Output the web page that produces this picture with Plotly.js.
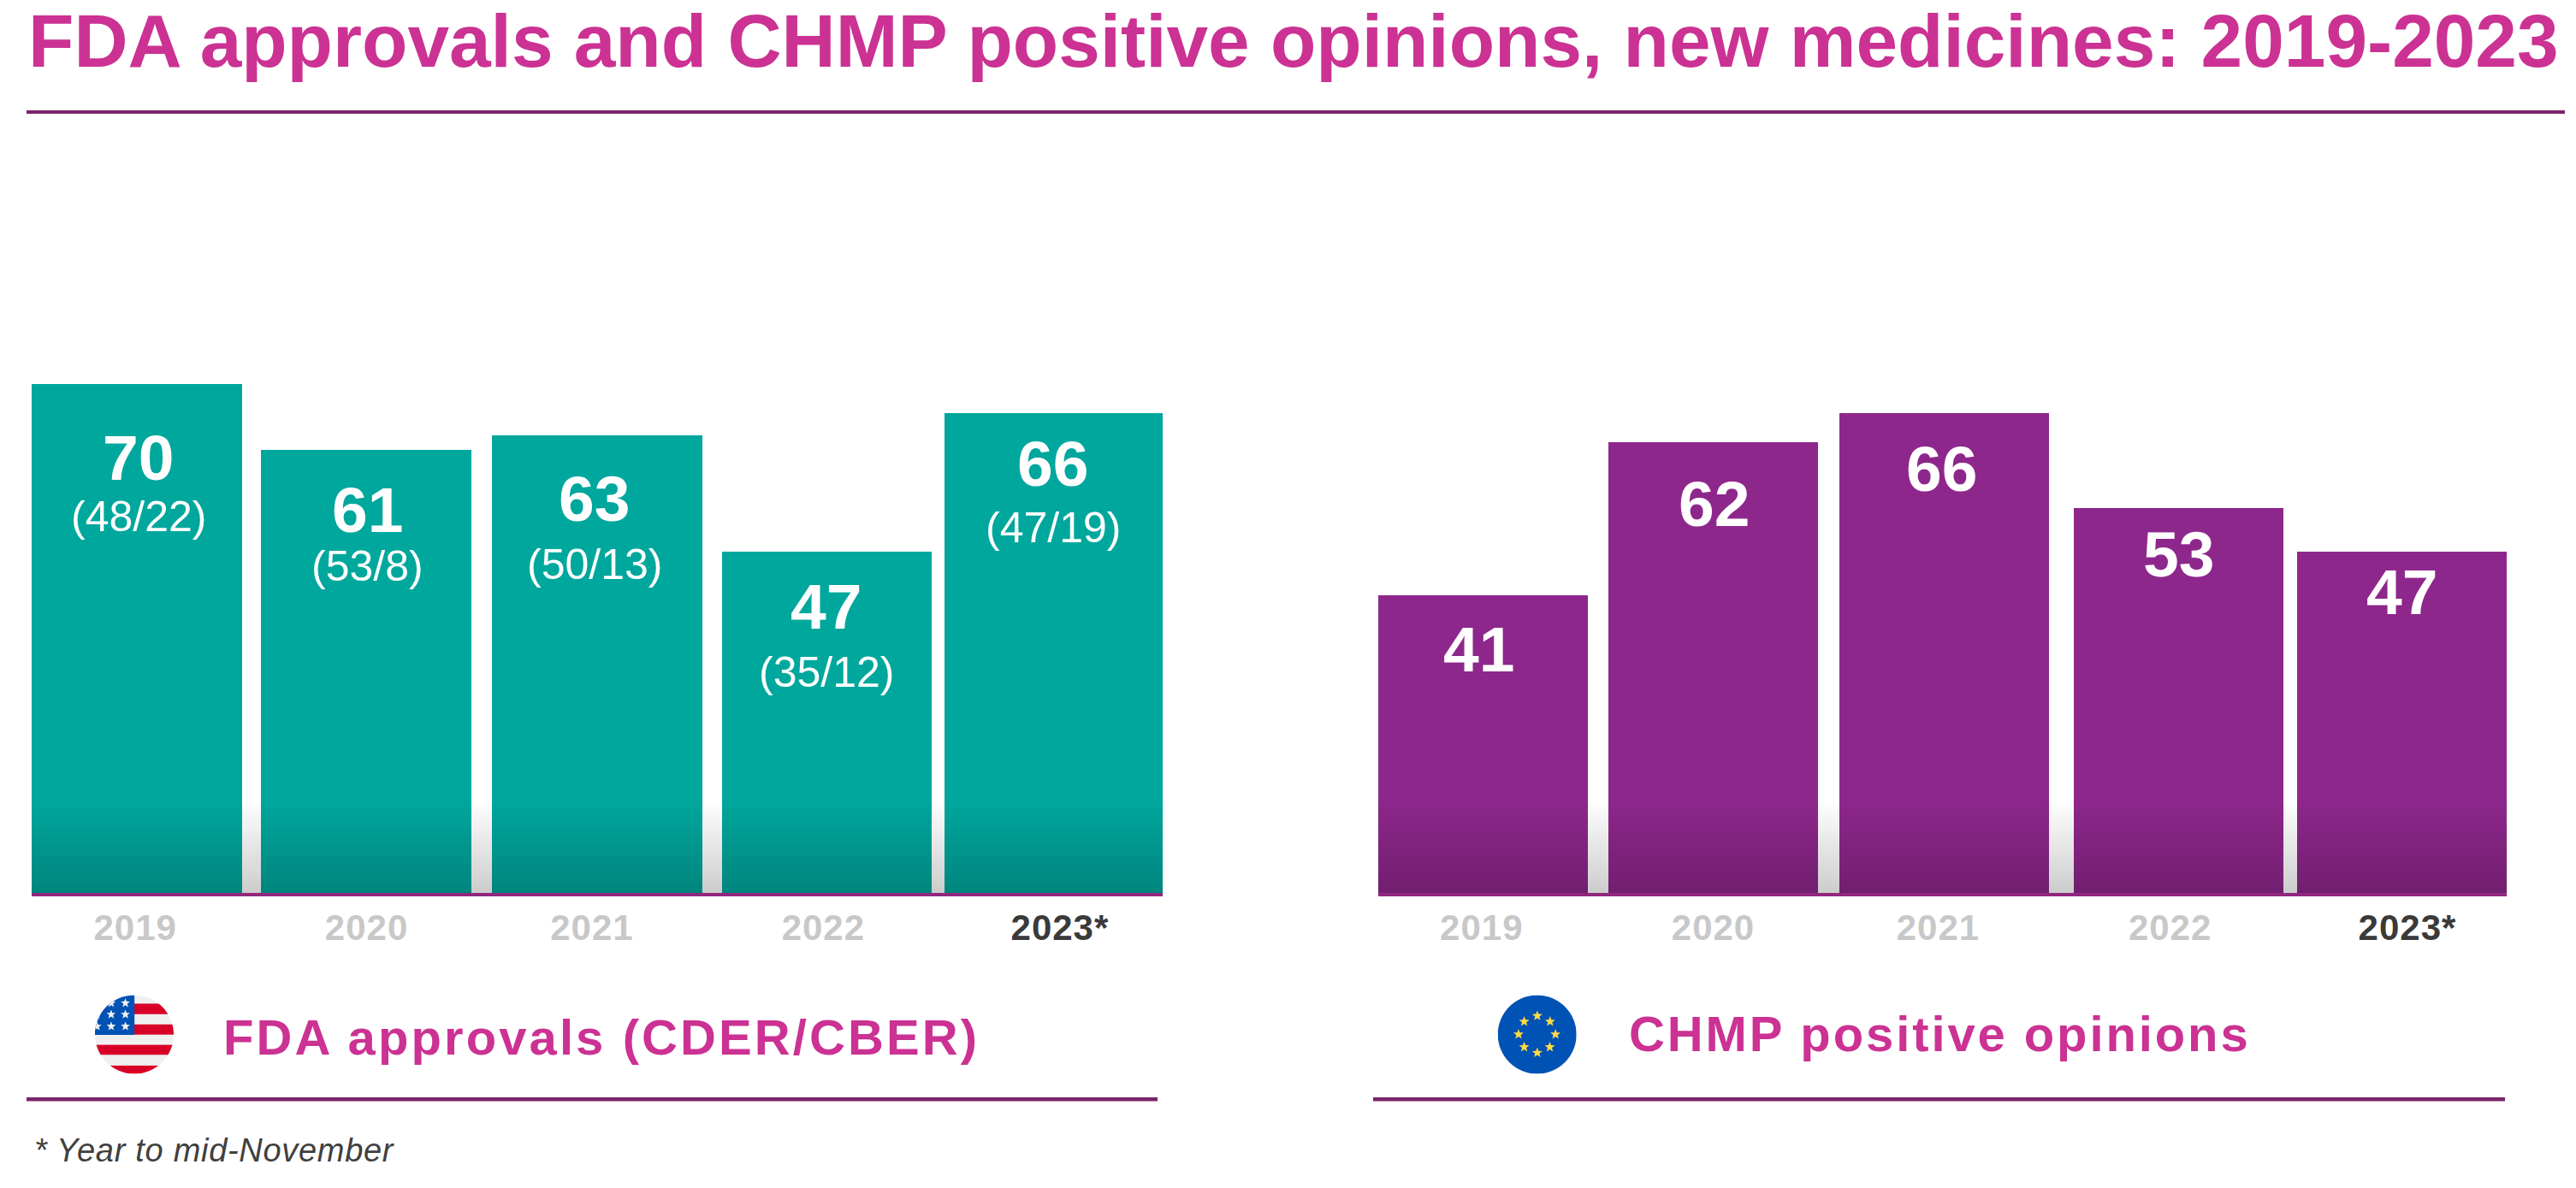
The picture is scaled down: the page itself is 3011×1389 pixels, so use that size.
<!DOCTYPE html>
<html><head><meta charset="utf-8">
<script src="https://cdn.plot.ly/plotly-3.0.1.min.js"></script>
<style>html,body{margin:0;padding:0;background:#fff}#c{width:3011px;height:1389px}</style>
</head><body><div id="c"></div>
<script>
const years=[2019,2020,2021,2022,2023];
const tickLabels=['2019','2020','2021','2022','2023*'];
const fdaTotal=[70,61,63,47,66];
const fdaCder=[48,53,50,35,47];
const fdaCber=[22,8,13,12,19];
const chmpTotal=[41,62,66,53,47];

const W=3011,H=1389;
const TEAL='#00A79D',PURPLE='#8E278C',MAGENTA='#CB3293',RULE='#7A2569',AXIS='#92277E';
const FONT='"Liberation Sans", Arial, sans-serif';
const px=v=>v/W, py=v=>1-v/H;
const plotTop=364,plotBottom=1044,yMax=80;

// per-bar geometry, in units of one year on the x axis
const leftOffset=[-.459,-.459,-.451,-.448,-.478], leftWidth=[.918,.918,.916,.914,.951];
const rightOffset=[-.457,-.455,-.45,-.429,-.457], rightWidth=[.914,.912,.912,.912,.912];
const leftTicks=[2018.993,2020.002,2020.985,2021.994,2023.026];
const rightTicks=[2018.993,2020.001,2020.98,2021.99,2023.023];
// label placement: drop below bar top in pixels, and x position in years
const fdaDrop=[86,70.5,74.5,64.5,59], fdaSubDrop=[155,136,151,141.5,134];
const fdaLabelX=[2019.007,2020.007,2020.996,2022.007,2022.996];
const chmpDrop=[63.5,71.5,65,54.5,47.5];
const chmpLabelX=[2018.98,2020.003,2020.995,2022.025,2022.997];

const spaced=(t,s)=>`<span style="letter-spacing:${s}px">${t}</span>`;
const ticktext=tickLabels.map((t,i)=>i===4?`<span style="color:#3A3A3A;letter-spacing:1px">${t}</span>`:spaced(t,1));

const data=[
 {type:'bar',x:years,y:fdaTotal,offset:leftOffset,width:leftWidth,marker:{color:TEAL,line:{width:0}},xaxis:'x',yaxis:'y',hoverinfo:'skip',showlegend:false},
 {type:'bar',x:years,y:chmpTotal,offset:rightOffset,width:rightWidth,marker:{color:PURPLE,line:{width:0}},xaxis:'x2',yaxis:'y2',hoverinfo:'skip',showlegend:false}
];

const ax=(dom,range,ticks)=>({domain:dom,range:range,type:'linear',tickmode:'array',tickvals:ticks,ticktext:ticktext,
  showgrid:false,zeroline:false,showline:true,linecolor:AXIS,linewidth:4,ticks:'',ticklabelstandoff:1,
  tickfont:{family:FONT,size:42,color:'#C8C8C8',weight:700},fixedrange:true});
const ay=(dom,anchor)=>({domain:dom,range:[0,yMax],visible:false,fixedrange:true,anchor:anchor});
const yDom=[py(plotBottom),py(plotTop)];

const shapes=[];
const rule=(x0,x1,y0,y1)=>shapes.push({type:'rect',xref:'paper',yref:'paper',x0:px(x0),x1:px(x1),y0:py(y1),y1:py(y0),fillcolor:RULE,line:{width:0},layer:'above'});
rule(31,2998,129,133);
rule(31,1353,1283,1287.5);
rule(1605,2928,1283,1287.5);
// darkening band at the foot of both bar groups
const bandTop=(plotBottom-935)/8.5, steps=55;
['',2].forEach(n=>{for(let i=0;i<steps;i++){
  const a=.2*(1-(i+.5)/steps);
  shapes.push({type:'rect',xref:`x${n} domain`,yref:`y${n}`,x0:0,x1:1,y0:bandTop*i/steps,y1:bandTop*(i+1)/steps,
    fillcolor:`rgba(0,0,0,${a.toFixed(4)})`,line:{width:0},layer:'above'});
}});

const annotations=[];
fdaTotal.forEach((v,i)=>{
 annotations.push({x:fdaLabelX[i],y:v,xref:'x',yref:'y',yshift:-fdaDrop[i],yanchor:'middle',xanchor:'center',showarrow:false,text:String(v),font:{family:FONT,size:75,color:'#fff',weight:700}});
 annotations.push({x:fdaLabelX[i],y:v,xref:'x',yref:'y',yshift:-fdaSubDrop[i],yanchor:'middle',xanchor:'center',showarrow:false,text:`(${fdaCder[i]}/${fdaCber[i]})`,font:{family:FONT,size:50,color:'#fff'}});
});
chmpTotal.forEach((v,i)=>{
 annotations.push({x:chmpLabelX[i],y:v,xref:'x2',yref:'y2',yshift:-chmpDrop[i],yanchor:'middle',xanchor:'center',showarrow:false,text:String(v),font:{family:FONT,size:75,color:'#fff',weight:700}});
});
const note=(text,x,y,font)=>annotations.push({xref:'paper',yref:'paper',x:px(x),y:py(y),xanchor:'left',yanchor:'middle',showarrow:false,text,font,align:'left'});
note(spaced('FDA approvals (CDER/CBER)',3.1),259,1212,{family:FONT,size:58,color:MAGENTA,weight:700});
note(spaced('CHMP positive opinions',2.9),1902,1208,{family:FONT,size:58,color:MAGENTA,weight:700});
note(spaced('<i>* Year to mid-November</i>',.7),38,1345,{family:FONT,size:38,color:'#404040'});

const star=(cx,cy,r,fill)=>{let p='';for(let i=0;i<10;i++){const R=i%2?r*.42:r,t=-Math.PI/2+i*Math.PI/5;
  p+=(i?'L':'M')+(cx+R*Math.cos(t)).toFixed(1)+' '+(cy+R*Math.sin(t)).toFixed(1);}return `<path d="${p}Z" fill="${fill}"/>`;};
const usStars=[[170,68],[120,68],[70,108],[120,108],[170,108],[70,150],[120,150],[170,150]].map(s=>star(s[0]-63,s[1]-40,17,'#F0F0F0')).join('');
const usStripes=[[30,37],[103,36],[175,35],[248,29]].map(s=>`<rect x="0" y="${s[0]}" width="277" height="${s[1]}" fill="#D80027"/>`).join('');
const usSvg=`<svg xmlns="http://www.w3.org/2000/svg" width="277" height="277" viewBox="0 0 277 277"><defs><clipPath id="k"><circle cx="138.5" cy="138.5" r="138.5"/></clipPath></defs><g clip-path="url(#k)"><rect width="277" height="277" fill="#F0F0F0"/>${usStripes}<rect width="139" height="140" fill="#0052B4"/>${usStars}</g></svg>`;
const euStars=[[171,113],[216,133],[235,178],[215,223],[171,243],[125,223],[105,178],[125,133]].map(s=>star(s[0]-32,s[1]-40,19,'#FFDA44')).join('');
const euSvg=`<svg xmlns="http://www.w3.org/2000/svg" width="277" height="277" viewBox="0 0 277 277"><circle cx="138.5" cy="138.5" r="138.5" fill="#0052B4"/>${euStars}</svg>`;
const img=(svg,cx,cy)=>({source:'data:image/svg+xml;charset=utf-8,'+encodeURIComponent(svg),xref:'paper',yref:'paper',x:px(cx),y:py(cy),sizex:92/W,sizey:92/H,xanchor:'center',yanchor:'middle',sizing:'stretch',layer:'above'});

const layout={width:W,height:H,margin:{l:0,r:0,t:0,b:0},paper_bgcolor:'#fff',plot_bgcolor:'rgba(0,0,0,0)',showlegend:false,
 bargap:0,hovermode:false,
 title:{text:'FDA approvals and CHMP positive opinions, new medicines: 2019-2023',xref:'paper',yref:'paper',x:px(33),xanchor:'left',y:py(47),yanchor:'middle',font:{family:FONT,size:87.4,color:MAGENTA,weight:700},pad:{l:0,r:0,t:0,b:0}},
 xaxis:ax([px(37),px(1359)],[2018.541,2023.474],leftTicks),
 yaxis:ay(yDom,'x'),
 xaxis2:Object.assign(ax([px(1611),px(2930)],[2018.543,2023.455],rightTicks),{anchor:'y2'}),
 yaxis2:ay(yDom,'x2'),
 shapes,annotations,
 images:[img(usSvg,157,1209.5),img(euSvg,1796.7,1209.5)]
};
Plotly.newPlot('c',data,layout,{displayModeBar:false,staticPlot:true});
</script></body></html>
